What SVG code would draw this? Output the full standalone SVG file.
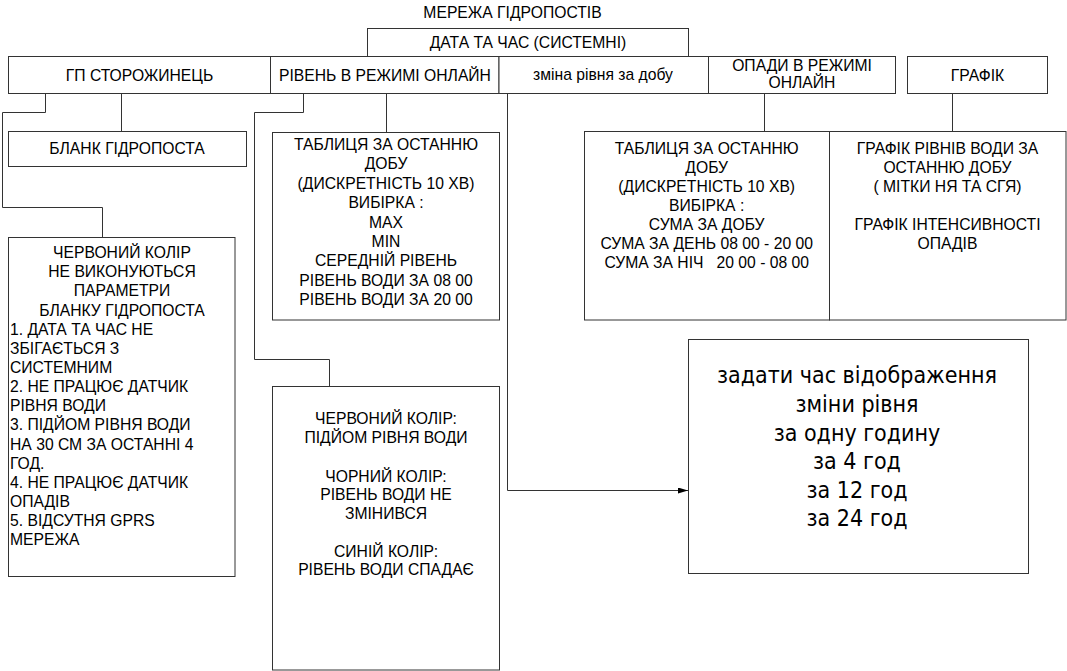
<svg xmlns="http://www.w3.org/2000/svg" width="1067" height="671" viewBox="0 0 1067 671">
<style>
  .box { fill: #fff; stroke: #333; stroke-width: 1; }
  .t { font-family: "Liberation Sans", Arial, sans-serif; font-size: 15.7px; fill: #000; }
  .c { text-anchor: middle; }
  .big { font-family: "DejaVu Sans Condensed", "DejaVu Sans", sans-serif; font-stretch: condensed; font-size: 23px; fill: #000; text-anchor: middle; }
  .ln { fill: none; stroke: #333; stroke-width: 1; }
</style>
<defs>
  <marker id="arr" viewBox="0 0 10 6" refX="10" refY="3" markerWidth="10" markerHeight="6" markerUnits="userSpaceOnUse" orient="auto">
    <path d="M0,0 L10,3 L0,6 Z" fill="#000"/>
  </marker>
</defs>
<rect width="1067" height="671" fill="#fff"/>

<g id="title">
  <text class="t c" x="512.5" y="17.5">МЕРЕЖА ГІДРОПОСТІВ</text>
</g>

<g id="connectors">
  <polyline class="ln" points="45.5,93.5 45.5,112.5 2.5,112.5 2.5,207.5 102.5,207.5 102.5,237.5"/>
  <line class="ln" x1="121.5" y1="93.5" x2="121.5" y2="131.5"/>
  <polyline class="ln" points="303.5,93.5 303.5,112.5 254.5,112.5 254.5,359.5 329.5,359.5 329.5,386.5"/>
  <line class="ln" x1="386.5" y1="93.5" x2="386.5" y2="132.5"/>
  <polyline class="ln" points="507.5,93.5 507.5,490.5 688,490.5" marker-end="url(#arr)"/>
  <line class="ln" x1="764.5" y1="93.5" x2="764.5" y2="131.5"/>
  <line class="ln" x1="952.5" y1="93.5" x2="952.5" y2="131.5"/>
</g>

<g id="date">
  <rect class="box" x="367.5" y="28.5" width="321" height="28"/>
  <text class="t c" x="528" y="48">ДАТА ТА ЧАС (СИСТЕМНІ)</text>
</g>

<g id="gp">
  <rect class="box" x="8.5" y="56.5" width="262" height="37"/>
  <text class="t c" x="139.5" y="81">ГП СТОРОЖИНЕЦЬ</text>
</g>
<g id="riven">
  <rect class="box" x="270.5" y="56.5" width="228.5" height="37"/>
  <text class="t c" x="385" y="81">РІВЕНЬ В РЕЖИМІ ОНЛАЙН</text>
</g>
<g id="zmina">
  <rect class="box" x="499" y="56.5" width="209.5" height="37"/>
  <text class="t c" x="603" y="80">зміна рівня за добу</text>
</g>
<g id="opady">
  <rect class="box" x="708.5" y="56.5" width="187" height="37"/>
  <text class="t c" x="802" y="70.5">ОПАДИ В РЕЖИМІ</text>
  <text class="t c" x="802" y="88">ОНЛАЙН</text>
</g>
<g id="grafik">
  <rect class="box" x="907.5" y="56.5" width="140" height="37"/>
  <text class="t c" x="977.5" y="81">ГРАФІК</text>
</g>

<g id="blank">
  <rect class="box" x="8.5" y="131.5" width="238" height="35"/>
  <text class="t c" x="127" y="154">БЛАНК ГІДРОПОСТА</text>
</g>

<g id="red-params">
  <rect class="box" x="8.5" y="237.5" width="226.5" height="339"/>
  <text class="t c" x="122" y="258">ЧЕРВОНИЙ КОЛІР</text>
  <text class="t c" x="122" y="277.2">НЕ ВИКОНУЮТЬСЯ</text>
  <text class="t c" x="122" y="296.3">ПАРАМЕТРИ</text>
  <text class="t c" x="122" y="315.5">БЛАНКУ ГІДРОПОСТА</text>
  <text class="t" x="10" y="334.6">1. ДАТА ТА ЧАС НЕ</text>
  <text class="t" x="10" y="353.8">ЗБІГАЄТЬСЯ З</text>
  <text class="t" x="10" y="372.9">СИСТЕМНИМ</text>
  <text class="t" x="10" y="392.1">2. НЕ ПРАЦЮЄ ДАТЧИК</text>
  <text class="t" x="10" y="411.2">РІВНЯ ВОДИ</text>
  <text class="t" x="10" y="430.4">3. ПІДЙОМ РІВНЯ ВОДИ</text>
  <text class="t" x="10" y="449.5">НА 30 СМ ЗА ОСТАННІ 4</text>
  <text class="t" x="10" y="468.7">ГОД.</text>
  <text class="t" x="10" y="487.8">4. НЕ ПРАЦЮЄ ДАТЧИК</text>
  <text class="t" x="10" y="507">ОПАДІВ</text>
  <text class="t" x="10" y="526.1">5. ВІДСУТНЯ GPRS</text>
  <text class="t" x="10" y="545.3">МЕРЕЖА</text>
</g>

<g id="table-level">
  <rect class="box" x="272.5" y="132.5" width="227" height="187.5"/>
  <text class="t c" x="386" y="150">ТАБЛИЦЯ ЗА ОСТАННЮ</text>
  <text class="t c" x="386" y="169.4">ДОБУ</text>
  <text class="t c" x="386" y="188.8">(ДИСКРЕТНІСТЬ 10 ХВ)</text>
  <text class="t c" x="386" y="208.1">ВИБІРКА :</text>
  <text class="t c" x="386" y="227.5">MAX</text>
  <text class="t c" x="386" y="246.9">MIN</text>
  <text class="t c" x="386" y="266.3">СЕРЕДНІЙ РІВЕНЬ</text>
  <text class="t c" x="386" y="285.6">РІВЕНЬ ВОДИ ЗА 08 00</text>
  <text class="t c" x="386" y="305">РІВЕНЬ ВОДИ ЗА 20 00</text>
</g>

<g id="colors-level">
  <rect class="box" x="272.5" y="386.5" width="227" height="283.5"/>
  <text class="t c" x="386" y="424.3">ЧЕРВОНИЙ КОЛІР:</text>
  <text class="t c" x="386" y="443">ПІДЙОМ РІВНЯ ВОДИ</text>
  <text class="t c" x="386" y="481.5">ЧОРНИЙ КОЛІР:</text>
  <text class="t c" x="386" y="500.2">РІВЕНЬ ВОДИ НЕ</text>
  <text class="t c" x="386" y="518.9">ЗМІНИВСЯ</text>
  <text class="t c" x="386" y="556.6">СИНІЙ КОЛІР:</text>
  <text class="t c" x="386" y="575.3">РІВЕНЬ ВОДИ СПАДАЄ</text>
</g>

<g id="table-precip">
  <rect class="box" x="584.5" y="131.5" width="245" height="188.5"/>
  <text class="t c" x="706.7" y="154.3">ТАБЛИЦЯ ЗА ОСТАННЮ</text>
  <text class="t c" x="706.7" y="173.3">ДОБУ</text>
  <text class="t c" x="706.7" y="192.3">(ДИСКРЕТНІСТЬ 10 ХВ)</text>
  <text class="t c" x="706.7" y="211.3">ВИБІРКА :</text>
  <text class="t c" x="706.7" y="230.3">СУМА ЗА ДОБУ</text>
  <text class="t c" x="706.7" y="249.3">СУМА ЗА ДЕНЬ 08 00 - 20 00</text>
  <text class="t c" x="706.7" y="268.3" xml:space="preserve">СУМА ЗА НІЧ   20 00 - 08 00</text>
</g>

<g id="graph">
  <rect class="box" x="829.5" y="131.5" width="236.5" height="188.5"/>
  <text class="t c" x="947.5" y="154.3">ГРАФІК РІВНІВ ВОДИ ЗА</text>
  <text class="t c" x="947.5" y="173.3">ОСТАННЮ ДОБУ</text>
  <text class="t c" x="947.5" y="192.3">( МІТКИ НЯ ТА СГЯ)</text>
  <text class="t c" x="947.5" y="230.3">ГРАФІК ІНТЕНСИВНОСТІ</text>
  <text class="t c" x="947.5" y="249.3">ОПАДІВ</text>
</g>

<g id="display-time">
  <rect class="box" x="688.5" y="339.5" width="340" height="234"/>
  <text class="big" x="857" y="383.3">задати час відображення</text>
  <text class="big" x="857" y="411.9">зміни рівня</text>
  <text class="big" x="857" y="440.5">за одну годину</text>
  <text class="big" x="857" y="469.1">за 4 год</text>
  <text class="big" x="857" y="497.7">за 12 год</text>
  <text class="big" x="857" y="526.3">за 24 год</text>
</g>
</svg>
